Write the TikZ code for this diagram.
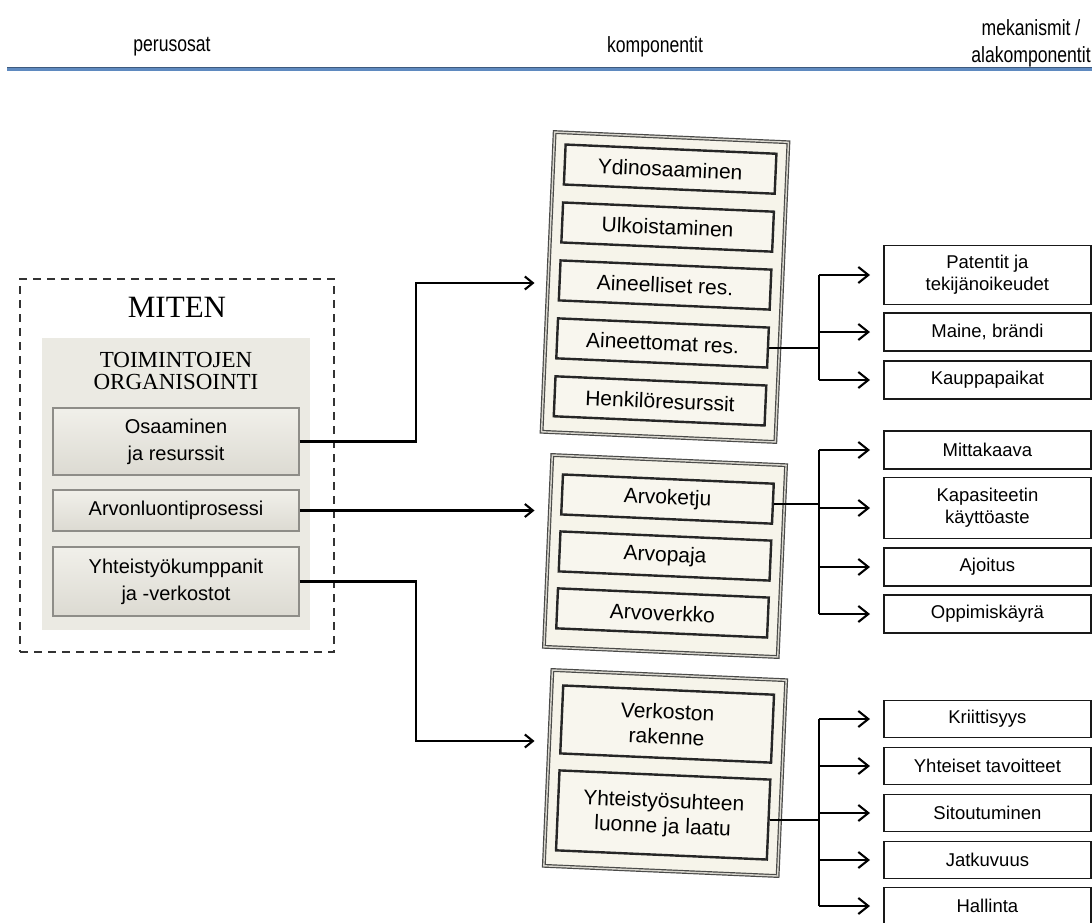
\documentclass[tikz,border=0pt]{standalone}
\usepackage{fontspec}
\setmainfont{Liberation Sans}
\newfontfamily\titlefont{Liberation Serif}
\newfontfamily\headfont{Liberation Sans}[FakeStretch=0.8]
\usetikzlibrary{arrows.meta}

\definecolor{headblue}{HTML}{5F8AC0}
\definecolor{panelgray}{HTML}{EBEAE3}
\definecolor{btntop}{HTML}{F1F0EA}
\definecolor{btnbot}{HTML}{DCDAD2}
\definecolor{btnedge}{HTML}{8E8D88}
\definecolor{cream}{HTML}{F6F4EA}
\definecolor{creamlight}{HTML}{F8F6EE}
\definecolor{framegray}{HTML}{4A4A48}
\definecolor{framelight}{HTML}{D8D6CE}

\tikzset{
  headtxt/.style={font=\headfont\fontsize{22}{27}\selectfont, align=center, inner sep=0},
  dashbox/.style={draw=black!80, line width=2.2pt, dash pattern=on 8pt off 6pt},
  panel/.style={fill=panelgray, draw=none},
  leftbtn/.style={draw=btnedge, line width=1.3pt, top color=btntop, bottom color=btnbot,
    minimum width=246pt, align=center, font=\fontsize{20}{27}\selectfont, inner sep=0},
  compframe/.style={draw=framegray, line width=1.2pt, double=framelight, double distance=1.4pt,
    fill=cream, minimum width=234pt, inner sep=0},
  compitem/.style={draw=black!85, line width=2.4pt, fill=creamlight, minimum width=211pt,
    minimum height=40pt, align=center, font=\fontsize{21}{25}\selectfont, inner sep=0},
  subbox/.style={draw=black!90, line width=1.8pt, fill=white, minimum width=207pt, anchor=west,
    align=center, font=\fontsize{18.5}{22}\selectfont, inner sep=0},
  conn/.style={line width=2.1pt, black},
  leftarrow/.style={conn, -{Straight Barb[length=8pt,width=13pt]}, shorten >=13pt},
  subarrow/.style={conn, -{Straight Barb[length=10pt,width=16pt]}, shorten >=13pt}
}

\begin{document}
\begin{tikzpicture}[x=1pt,y=-1pt]
\useasboundingbox (0,0) rectangle (1092,922);

% column headings
\node[headtxt] (h1) at (172,47) {perusosat};
\node[headtxt] (h2) at (655,47) {komponentit};
\node[headtxt] (h3) at (1031,43) {mekanismit /\\alakomponentit};
\draw[line width=3pt, headblue] (7,69) -- (1092,69);
\draw[line width=0.8pt, headblue!65!black] (7,67.8) -- (1092,67.8);

% left panel
\node[dashbox, minimum width=314pt, minimum height=373pt] (miten) at (177,465.5) {};
\node[panel, minimum width=268pt, minimum height=292pt] (toim) at (176,484) {};
\node[font=\titlefont\fontsize{31}{31}\selectfont] (mitenlbl) at (177,307) {MITEN};
\node[font=\titlefont\fontsize{23}{23}\selectfont, align=center, inner sep=0] (toimlbl) at (176,371)
  {TOIMINTOJEN\\[-1pt]ORGANISOINTI};
\node[leftbtn, minimum height=67pt] (osa) at (176,441.5) {Osaaminen\\ja resurssit};
\node[leftbtn, minimum height=41pt] (arv) at (176,510.5) {Arvonluontiprosessi};
\node[leftbtn, minimum height=69pt] (yht) at (176,581.5) {Yhteistyökumppanit\\ja -verkostot};

% component group 1
\begin{scope}[shift={(665,287)}, rotate=-2.5, transform shape]
  \node[compframe, minimum height=300pt] (kb1) at (0,0) {};
  \node[compitem] (ydi) at (0,-118) {Ydinosaaminen};
  \node[compitem] (ulk) at (0,-60) {Ulkoistaminen};
  \node[compitem] (ael) at (0,-2) {Aineelliset res.};
  \node[compitem] (ain) at (0,56) {Aineettomat res.};
  \node[compitem] (hen) at (0,114) {Henkilöresurssit};
\end{scope}

% component group 2
\begin{scope}[shift={(665,556)}, rotate=-2.5, transform shape]
  \node[compframe, minimum height=192pt] (kb2) at (0,0) {};
  \node[compitem] (ark) at (0,-57) {Arvoketju};
  \node[compitem] (arp) at (0,0) {Arvopaja};
  \node[compitem] (arw) at (0,57) {Arvoverkko};
\end{scope}

% component group 3
\begin{scope}[shift={(665,773)}, rotate=-2.5, transform shape]
  \node[compframe, minimum height=196pt] (kb3) at (0,0) {};
  \node[compitem, minimum height=68pt] (ver) at (0,-49) {Verkoston\\rakenne};
  \node[compitem, minimum height=80pt] (yst) at (0,42) {Yhteistyösuhteen\\luonne ja laatu};
\end{scope}

% connectors from the left panel
\coordinate (k1) at (416,283);
\coordinate (k3) at (416,741);
\draw[leftarrow] (osa.east) -| (k1) -- (k1 -| kb1.west);
\draw[leftarrow] (arv.east) -- (arv.east -| kb2.west);
\draw[leftarrow] (yht.east) -| (k3) -- (k3 -| kb3.west);

% sub-components
\coordinate (jx) at (819,0);

\node[subbox, minimum height=59pt] (pat) at (883,275) {Patentit ja\\tekijänoikeudet};
\node[subbox, minimum height=38pt] (mai) at (883,332) {Maine, brändi};
\node[subbox, minimum height=38pt] (kau) at (883,380) {Kauppapaikat};

\node[subbox, minimum height=38pt] (mit) at (883,450) {Mittakaava};
\node[subbox, minimum height=61pt] (kap) at (883,508) {Kapasiteetin\\käyttöaste};
\node[subbox, minimum height=38pt] (ajo) at (883,567) {Ajoitus};
\node[subbox, minimum height=38pt] (opp) at (883,614) {Oppimiskäyrä};

\node[subbox, minimum height=37pt] (kri) at (883,719) {Kriittisyys};
\node[subbox, minimum height=37pt] (yhs) at (883,766) {Yhteiset tavoitteet};
\node[subbox, minimum height=37pt] (sit) at (883,813) {Sitoutuminen};
\node[subbox, minimum height=37pt] (jat) at (883,860) {Jatkuvuus};
\node[subbox, minimum height=37pt] (hal) at (883,906) {Hallinta};

% branch 1
\draw[conn] (ain.east) -- (ain.east -| jx);
\draw[conn] (pat.west -| jx) -- (kau.west -| jx);
\foreach \t in {pat,mai,kau} \draw[subarrow] (\t.west -| jx) -- (\t.west);

% branch 2
\draw[conn] (ark.east) -- (ark.east -| jx);
\draw[conn] (mit.west -| jx) -- (opp.west -| jx);
\foreach \t in {mit,kap,ajo,opp} \draw[subarrow] (\t.west -| jx) -- (\t.west);

% branch 3
\draw[conn] (yst.east) -- (yst.east -| jx);
\draw[conn] (kri.west -| jx) -- (hal.west -| jx);
\foreach \t in {kri,yhs,sit,jat,hal} \draw[subarrow] (\t.west -| jx) -- (\t.west);
\end{tikzpicture}
\end{document}
